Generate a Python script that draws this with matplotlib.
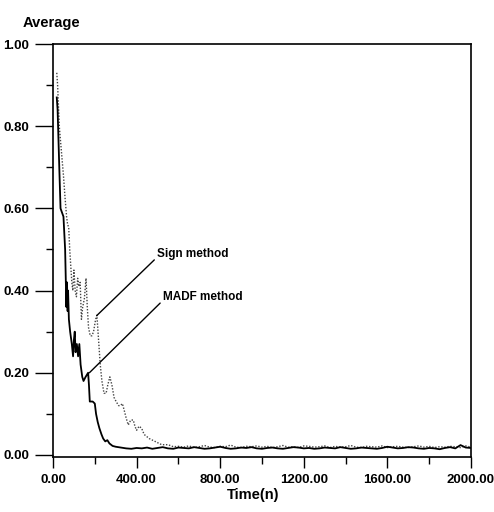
import numpy as np
import matplotlib
matplotlib.use("Agg")
import matplotlib.pyplot as plt
from matplotlib.ticker import MultipleLocator, FormatStrFormatter

# --- данные ---
madf_n = [18, 22, 30, 36, 50, 58, 64, 67, 70, 72, 76, 82, 90, 96, 100, 104,
          108, 114, 120, 126, 132, 140, 146, 156, 168, 172, 176, 190, 200,
          206, 214, 222, 232, 240, 250, 260, 270, 285]
madf_v = [0.87, 0.84, 0.70, 0.60, 0.58, 0.50, 0.36, 0.42, 0.35, 0.40, 0.33,
          0.30, 0.27, 0.24, 0.28, 0.30, 0.25, 0.27, 0.24, 0.27, 0.22, 0.19,
          0.18, 0.19, 0.20, 0.17, 0.13, 0.13, 0.125, 0.10, 0.08, 0.065, 0.05,
          0.04, 0.033, 0.036, 0.028, 0.022]
madf_tail = [0.020, 0.018, 0.016, 0.015, 0.017, 0.016, 0.018, 0.015, 0.017,
             0.019, 0.016, 0.015, 0.018, 0.017, 0.016, 0.019, 0.017, 0.015,
             0.016, 0.018, 0.020, 0.017, 0.015, 0.016, 0.018, 0.017, 0.019,
             0.016, 0.015, 0.017, 0.018, 0.016, 0.015, 0.017, 0.019, 0.018,
             0.016, 0.017, 0.015, 0.016, 0.018, 0.017, 0.016, 0.019, 0.017,
             0.015, 0.016, 0.018, 0.017, 0.016, 0.015, 0.017, 0.020, 0.018,
             0.016, 0.017, 0.019, 0.018, 0.016, 0.015, 0.017, 0.016, 0.014,
             0.017, 0.019, 0.016, 0.024, 0.018, 0.017]

sign_n = [18, 22, 30, 40, 50, 57, 65, 70, 75, 80, 90, 95, 100, 106, 112, 118,
          124, 130, 136, 142, 150, 158, 164, 170, 178, 186, 194, 204, 210,
          218, 226, 234, 244, 254, 262, 272, 282, 292, 302, 314, 322, 332,
          340, 350, 360, 372, 384, 392, 400, 412, 424, 436, 448, 460, 480,
          500, 520, 550, 576]
sign_v = [0.93, 0.90, 0.80, 0.74, 0.68, 0.63, 0.58, 0.56, 0.555, 0.50, 0.42,
          0.40, 0.45, 0.40, 0.385, 0.43, 0.41, 0.42, 0.33, 0.36, 0.38, 0.43,
          0.36, 0.31, 0.29, 0.29, 0.30, 0.33, 0.34, 0.28, 0.22, 0.18, 0.15,
          0.15, 0.17, 0.19, 0.17, 0.14, 0.13, 0.12, 0.12, 0.125, 0.11, 0.09,
          0.073, 0.085, 0.085, 0.07, 0.06, 0.07, 0.065, 0.05, 0.045, 0.04,
          0.035, 0.03, 0.025, 0.025, 0.02]
sign_tail = [0.021, 0.019, 0.022, 0.018, 0.020, 0.023, 0.019, 0.018, 0.021,
             0.020, 0.024, 0.019, 0.018, 0.021, 0.020, 0.022, 0.019, 0.021,
             0.018, 0.020, 0.023, 0.019, 0.020, 0.018, 0.022, 0.021, 0.019,
             0.020, 0.022, 0.018, 0.021, 0.019, 0.020, 0.023, 0.019, 0.018,
             0.021, 0.020, 0.019, 0.022, 0.018, 0.020, 0.021, 0.019, 0.018,
             0.020, 0.022, 0.019, 0.021, 0.018, 0.020, 0.019, 0.021, 0.020,
             0.018, 0.022, 0.019]

x_ticks = [0, 400, 800, 1200, 1600, 2000]
y_ticks = [0.0, 0.2, 0.4, 0.6, 0.8, 1.0]

madf_x = madf_n + list(range(300, 2001, 25))
madf_y = madf_v + madf_tail
sign_x = sign_n + list(range(600, 2001, 25))
sign_y = sign_v + sign_tail

plt.rcParams["font.family"] = ["Liberation Sans", "DejaVu Sans"]

fig = plt.figure(figsize=(4.94, 5.12), dpi=100)
ax = fig.add_axes([0.1073, 0.1074, 0.8461, 0.8066])

ax.plot(sign_x, sign_y, color="#444444", linestyle=(0, (1, 1.2)), linewidth=1.0)
ax.plot(madf_x, madf_y, color="black", linestyle="-", linewidth=1.3)

ax.set_xlim(0, 2000)
ax.set_ylim(-0.005, 1.0)
ax.set_xticks(x_ticks)
ax.set_yticks(y_ticks)
ax.xaxis.set_minor_locator(MultipleLocator(200))
ax.yaxis.set_minor_locator(MultipleLocator(0.1))
ax.xaxis.set_major_formatter(FormatStrFormatter("%.2f"))
ax.yaxis.set_major_formatter(FormatStrFormatter("%.2f"))
ax.tick_params(axis="both", which="major", direction="out", length=8,
               width=1.0, labelsize=9.5, pad=4)
ax.tick_params(axis="y", which="major", length=13)
ax.tick_params(axis="both", which="minor", direction="out", length=5, width=1.0)
for lbl in ax.get_xticklabels() + ax.get_yticklabels():
    lbl.set_fontweight("bold")
for sp in ax.spines.values():
    sp.set_linewidth(1.2)

ax.set_xlabel("Time(n)", fontsize=10.5, fontweight="bold", labelpad=3)
ax.xaxis.set_label_coords(0.478, -0.075)
fig.text(0.045, 0.955, "Average", fontsize=10.5, fontweight="bold",
         ha="left", va="center")

# подписи с выносными линиями
ax.annotate("Sign method", xy=(209, 0.339), xytext=(498, 0.49),
            fontsize=8.5, fontweight="bold", va="center", ha="left",
            arrowprops=dict(arrowstyle="-", color="black", lw=1.0,
                            shrinkA=0, shrinkB=0, relpos=(0, 0.2)))
ax.annotate("MADF method", xy=(174, 0.20), xytext=(526, 0.385),
            fontsize=8.5, fontweight="bold", va="center", ha="left",
            arrowprops=dict(arrowstyle="-", color="black", lw=1.0,
                            shrinkA=0, shrinkB=0, relpos=(0, 0.2)))

fig.savefig("out.png", dpi=100)
plt.close(fig)
